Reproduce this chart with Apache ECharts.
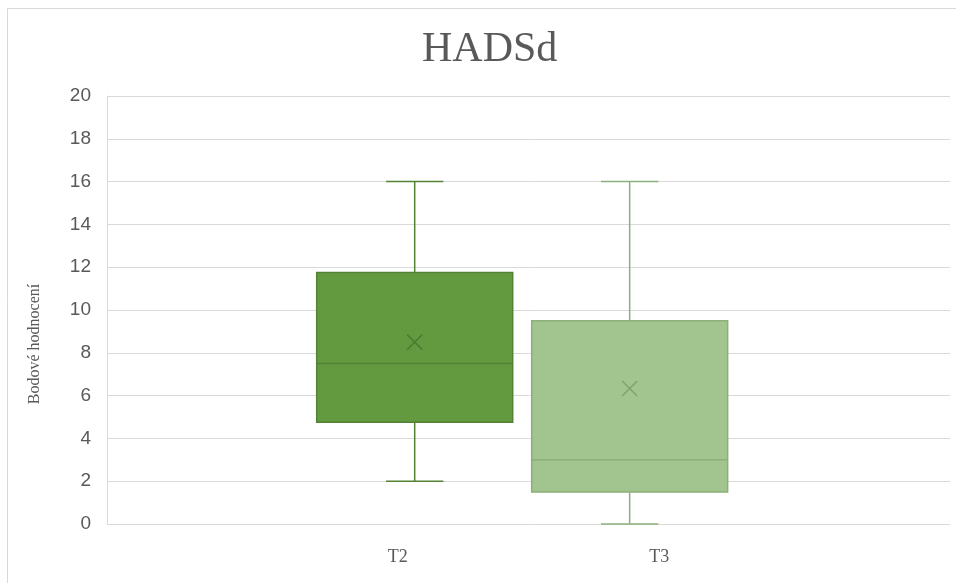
<!DOCTYPE html>
<html>
<head>
<meta charset="utf-8">
<title>HADSd</title>
<script src="https://cdn.jsdelivr.net/npm/echarts@6/dist/echarts.min.js"></script>
<style>
  html, body { margin: 0; padding: 0; background: #ffffff; }
  #chart { width: 956px; height: 583px; }
</style>
</head>
<body>
<div id="chart"></div>
<script>
// Box-plot statistics per measurement time
const categories = ['T2', 'T3'];
const whiskerLow = [2, 0];
const quartile1 = [4.75, 1.5];
const medians = [7.5, 3];
const quartile3 = [11.75, 9.5];
const whiskerHigh = [16, 16];
const means = [8.5, 6.33];

// Horizontal layout on a 0..1 axis (box centres and label anchors)
const boxCenters = [0.365, 0.62];
const labelAnchors = [0.345, 0.655];
const boxWidth = 0.2325;
const capWidth = 0.068;

const fills = ['#639A3F', '#A2C48F'];
const strokes = ['#548235', '#8CB07A'];
const meanColors = ['#4E7B30', '#7FA46B'];

const boxData = categories.map((c, i) => [
  boxCenters[i], whiskerLow[i], quartile1[i], medians[i], quartile3[i], whiskerHigh[i], means[i], i
]);

function renderBox(params, api) {
  const x = api.value(0);
  const i = api.value(7);
  const half = api.size([boxWidth, 0])[0] / 2;
  const capHalf = api.size([capWidth, 0])[0] / 2;
  const pLow = api.coord([x, api.value(1)]);
  const pQ1 = api.coord([x, api.value(2)]);
  const pMed = api.coord([x, api.value(3)]);
  const pQ3 = api.coord([x, api.value(4)]);
  const pHigh = api.coord([x, api.value(5)]);
  const pMean = api.coord([x, api.value(6)]);
  const cx = pQ1[0];
  const lineStyle = { stroke: strokes[i], lineWidth: 1.5, fill: null };
  const m = 7.5;
  return {
    type: 'group',
    children: [
      { type: 'line', shape: { x1: cx, y1: pHigh[1], x2: cx, y2: pQ3[1] }, style: lineStyle },
      { type: 'line', shape: { x1: cx - capHalf, y1: pHigh[1], x2: cx + capHalf, y2: pHigh[1] }, style: lineStyle },
      { type: 'line', shape: { x1: cx, y1: pQ1[1], x2: cx, y2: pLow[1] }, style: lineStyle },
      { type: 'line', shape: { x1: cx - capHalf, y1: pLow[1], x2: cx + capHalf, y2: pLow[1] }, style: lineStyle },
      { type: 'rect', shape: { x: cx - half, y: pQ3[1], width: half * 2, height: pQ1[1] - pQ3[1] },
        style: { fill: fills[i], stroke: strokes[i], lineWidth: 1.5 } },
      { type: 'line', shape: { x1: cx - half, y1: pMed[1], x2: cx + half, y2: pMed[1] }, style: lineStyle },
      { type: 'line', shape: { x1: pMean[0] - m, y1: pMean[1] - m, x2: pMean[0] + m, y2: pMean[1] + m },
        style: { stroke: meanColors[i], lineWidth: 1.5 } },
      { type: 'line', shape: { x1: pMean[0] - m, y1: pMean[1] + m, x2: pMean[0] + m, y2: pMean[1] - m },
        style: { stroke: meanColors[i], lineWidth: 1.5 } }
    ]
  };
}

const chart = echarts.init(document.getElementById('chart'), null, { renderer: 'canvas' });
chart.setOption({
  animation: false,
  backgroundColor: '#ffffff',
  title: {
    text: 'HADSd',
    left: 417,
    top: 24,
    textStyle: { fontFamily: 'Liberation Serif', fontSize: 42, fontWeight: 'normal', color: '#595959' }
  },
  graphic: [{
    type: 'rect', z: -10, silent: true,
    shape: { x: 7.5, y: 8.5, width: 1000, height: 1000 },
    style: { fill: null, stroke: '#D9D9D9', lineWidth: 1 }
  }, {
    // vertical axis title
    type: 'text', silent: true,
    x: 35, y: 344, rotation: Math.PI / 2,
    style: {
      text: 'Bodové hodnocení',
      fontFamily: 'Liberation Serif', fontSize: 16, fill: '#595959',
      align: 'center', verticalAlign: 'middle'
    }
  }],
  grid: { left: 107, right: 6, top: 96, bottom: 59 },
  xAxis: {
    type: 'value', min: 0, max: 1,
    axisLine: { show: false }, axisTick: { show: false }, splitLine: { show: false },
    axisLabel: {
      customValues: labelAnchors,
      formatter: (v) => {
        const k = labelAnchors.findIndex(a => Math.abs(a - v) < 1e-6);
        return k >= 0 ? categories[k] : '';
      },
      margin: 24,
      fontFamily: 'Liberation Serif', fontSize: 18, color: '#595959'
    }
  },
  yAxis: {
    type: 'value', min: 0, max: 20, interval: 2,
    axisLine: { show: true, lineStyle: { color: '#D9D9D9', width: 1 } },
    axisTick: { show: false },
    splitLine: { lineStyle: { color: '#D9D9D9', width: 1 } },
    axisLabel: { margin: 16, fontFamily: 'Liberation Sans', fontSize: 19, color: '#595959' }
  },
  series: [{
    type: 'custom',
    renderItem: renderBox,
    encode: { x: 0, y: [1, 2, 3, 4, 5, 6] },
    data: boxData
  }]
});
</script>
</body>
</html>
